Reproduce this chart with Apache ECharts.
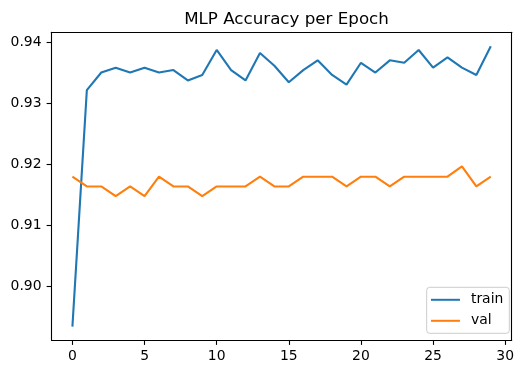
<!DOCTYPE html>
<html>
<head>
<meta charset="utf-8">
<script src="https://cdn.jsdelivr.net/npm/echarts@6/dist/echarts.min.js"></script>
<style>
html,body{margin:0;padding:0;background:#fff;}
#chart{width:527px;height:374px;}
</style>
</head>
<body>
<div id="chart"></div>
<script>
const epochs = [0,1,2,3,4,5,6,7,8,9,10,11,12,13,14,15,16,17,18,19,20,21,22,23,24,25,26,27,28,29];
const trainAcc = [0.8934,0.9322,0.9351,0.9359,0.9351,0.9359,0.9351,0.9355,0.9338,0.9347,
                  0.9388,0.9355,0.9338,0.9383,0.9362,0.9335,0.9355,0.9371,0.9347,0.9331,
                  0.9367,0.9351,0.9371,0.9367,0.9388,0.9359,0.9376,0.9359,0.9347,0.9394];
const valAcc = [0.9180,0.9164,0.9164,0.9148,0.9164,0.9148,0.9180,0.9164,0.9164,0.9148,
                0.9164,0.9164,0.9164,0.9180,0.9164,0.9164,0.9180,0.9180,0.9180,0.9164,
                0.9180,0.9180,0.9164,0.9180,0.9180,0.9180,0.9180,0.9197,0.9164,0.9180];
const xTicks = [0,5,10,15,20,25,30];
const yTicks = [0.90,0.91,0.92,0.93,0.94];
const seriesNames = ['train','val'];
const titleText = 'MLP Accuracy per Epoch';

const font = 'DejaVu Sans';
const xMin = -1.45, xMax = 30.45, yMin = 0.8912, yMax = 0.9417;
const axisLineStyle = {color:'#000', width:1.1};
const frameAxis = (pos, min, max) => ({
  type:'value', position:pos, min:min, max:max,
  axisLine:{show:true, onZero:false, lineStyle:axisLineStyle},
  axisTick:{show:false}, axisLabel:{show:false}, splitLine:{show:false}
});
const chart = echarts.init(document.getElementById('chart'), null, {renderer:'canvas'});
chart.setOption({
  animation:false,
  backgroundColor:'#ffffff',
  title:{
    text:titleText,
    left:281.5, textAlign:'center', top:6,
    textStyle:{fontFamily:font,fontSize:16.7,fontWeight:'normal',color:'#000'}
  },
  grid:{
    left:51.5, right:15.3, top:32.3, bottom:34
  },
  legend:{
    data:seriesNames,
    orient:'vertical',
    right:17.7, top:287.3,
    icon:'rect', itemWidth:29, itemHeight:2, itemGap:7,
    padding:[5.5,6,5.5,4.3],
    borderColor:'#cccccc', borderWidth:1, borderRadius:3,
    backgroundColor:'rgba(255,255,255,0.8)',
    textStyle:{fontFamily:font,fontSize:13.9,color:'#000',padding:[0,0,0,6]}
  },
  xAxis:[{
    type:'value', position:'bottom', min:xMin, max:xMax,
    splitLine:{show:false},
    axisLine:{show:true, onZero:false, lineStyle:axisLineStyle},
    axisTick:{show:true, length:4.9, lineStyle:axisLineStyle, customValues:xTicks},
    axisLabel:{fontFamily:font,fontSize:13.9,color:'#000',margin:9, customValues:xTicks}
  }, frameAxis('top', xMin, xMax)],
  yAxis:[{
    type:'value', position:'left', min:yMin, max:yMax,
    splitLine:{show:false},
    axisLine:{show:true, onZero:false, lineStyle:axisLineStyle},
    axisTick:{show:true, length:4.9, lineStyle:axisLineStyle, customValues:yTicks},
    axisLabel:{fontFamily:font,fontSize:13.9,color:'#000',margin:10, customValues:yTicks,
      formatter:function(v){return v.toFixed(2);}}
  }, frameAxis('right', yMin, yMax)],
  series:[
    {name:seriesNames[0], type:'line', xAxisIndex:0, yAxisIndex:0,
     data:epochs.map((e,i)=>[e,trainAcc[i]]),
     showSymbol:false, symbol:'none', lineStyle:{color:'#1f77b4',width:2.1}, itemStyle:{color:'#1f77b4'}},
    {name:seriesNames[1], type:'line', xAxisIndex:0, yAxisIndex:0,
     data:epochs.map((e,i)=>[e,valAcc[i]]),
     showSymbol:false, symbol:'none', lineStyle:{color:'#ff7f0e',width:2.1}, itemStyle:{color:'#ff7f0e'}}
  ]
});
</script>
</body>
</html>
